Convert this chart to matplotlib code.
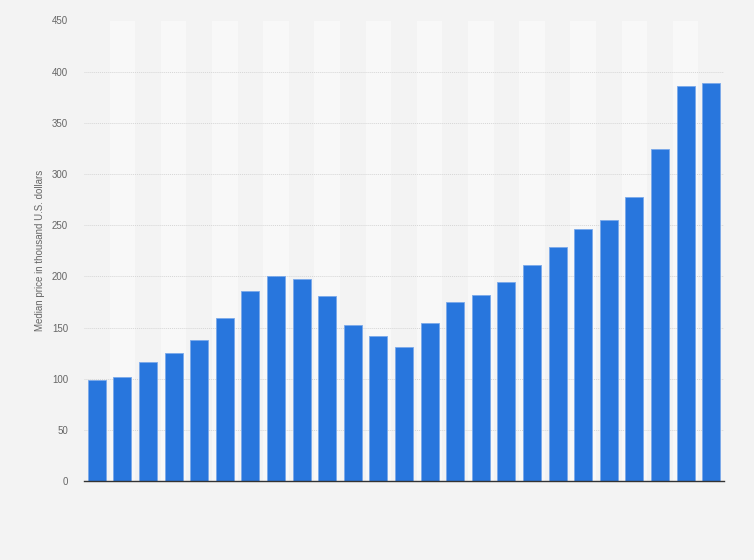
import matplotlib
matplotlib.use("Agg")
import matplotlib.pyplot as plt
import numpy as np

values = [99, 102, 116, 125, 137.5, 159, 185.5, 200, 197, 181, 152, 141.5, 130.5,
          154, 174.5, 182, 194, 211, 228.5, 246, 255, 278, 324, 386, 389]
y_ticks = [0, 50, 100, 150, 200, 250, 300, 350, 400, 450]
y_label = "Median price in thousand U.S. dollars"

plt.rcParams['font.family'] = ['Liberation Sans', 'DejaVu Sans']

fig = plt.figure(figsize=(7.54, 5.6), dpi=100)
fig.patch.set_facecolor('#f3f3f3')
ax = fig.add_axes([84/754, (560-481)/560, (724-84)/754, (481-20.5)/560])
ax.set_facecolor('#f3f3f3')

x = np.arange(len(values))
for i in x:
    if i % 2 == 1:
        ax.axvspan(i - 0.5, i + 0.5, color='#f8f8f8', zorder=0, lw=0)

ax.bar(x, values, width=0.7, color='#2876dd', edgecolor='#7aa9ea', linewidth=0.6, zorder=3)

ax.set_xlim(-0.5, len(values) - 0.5)
ax.set_ylim(0, 450)
ax.set_yticks(y_ticks)
ax.set_yticklabels([str(t) for t in y_ticks])
ax.yaxis.grid(True, color='#d6d6d6', linestyle=(0, (1, 1)), linewidth=0.7, zorder=1)
ax.set_xticks([])
ax.tick_params(axis='y', length=0, pad=11.5, labelsize=7, labelcolor='#666666')
for s in ['top', 'right', 'left']:
    ax.spines[s].set_visible(False)
ax.spines['bottom'].set_color('#333333')
ax.spines['bottom'].set_linewidth(1.0)
ax.spines['bottom'].set_zorder(4)
ax.set_ylabel(y_label, fontsize=7, color='#666666', labelpad=5)

fig.savefig('out.png', dpi=100, facecolor=fig.get_facecolor())
